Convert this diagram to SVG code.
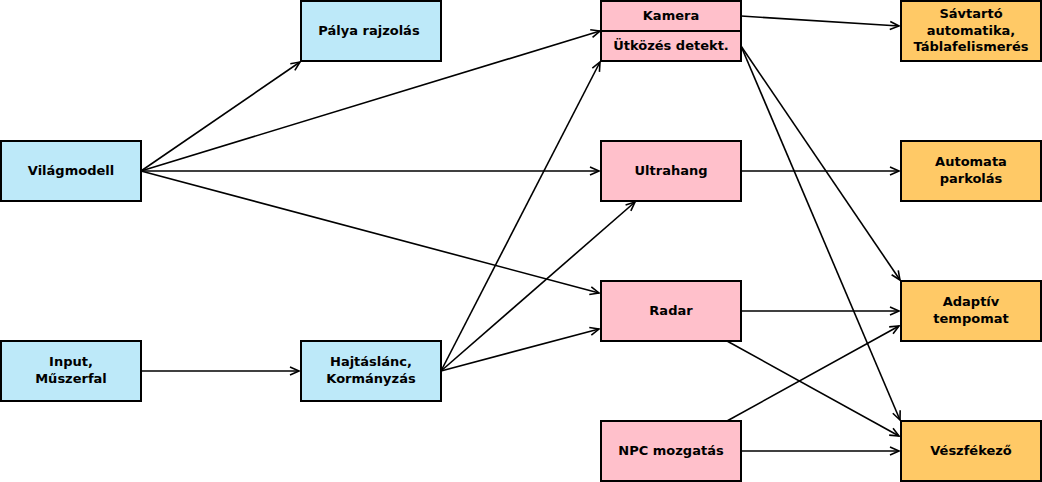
<svg xmlns="http://www.w3.org/2000/svg" width="1042" height="482" viewBox="0 0 1042 482">
<defs>
<marker id="arr" markerUnits="userSpaceOnUse" markerWidth="14" markerHeight="12" viewBox="-11 -6 13 12" refX="0" refY="0" orient="auto">
<path d="M-9,-4 L0,0 L-9,4" fill="none" stroke="#000" stroke-width="1.6"/>
</marker>
</defs>
<style>
rect{stroke:#000;stroke-width:2}
.b{fill:#bde9f9}
.p{fill:#ffc0cb}
.o{fill:#ffc966}
text{font-family:"DejaVu Sans",sans-serif;font-weight:bold;font-size:13px;text-anchor:middle;fill:#000}
.e line{stroke:#000;stroke-width:1.6;marker-end:url(#arr)}
</style>
<rect width="1042" height="482" fill="#fff" style="stroke:none"/>
<g class="e" id="connectors">
<line x1="141" y1="171" x2="300" y2="62"/>
<line x1="141" y1="171" x2="600" y2="31"/>
<line x1="141" y1="171" x2="599" y2="171"/>
<line x1="141" y1="171" x2="599" y2="293"/>
<line x1="141" y1="371" x2="299" y2="371"/>
<line x1="441" y1="371" x2="600" y2="62"/>
<line x1="441" y1="371" x2="635" y2="202"/>
<line x1="441" y1="371" x2="599" y2="329"/>
<line x1="741" y1="16" x2="899" y2="26"/>
<line x1="741" y1="46" x2="900" y2="280"/>
<line x1="741" y1="46" x2="900" y2="420"/>
<line x1="741" y1="171" x2="899" y2="171"/>
<line x1="741" y1="311" x2="899" y2="311"/>
<line x1="727" y1="341" x2="899" y2="436"/>
<line x1="727" y1="421" x2="899" y2="326"/>
<line x1="741" y1="451" x2="899" y2="451"/>
</g>
<g id="palya"><rect class="b" x="301" y="1" width="140" height="60"/><text x="369" y="35">Pálya rajzolás</text></g>
<g id="vilagmodell"><rect class="b" x="1" y="141" width="140" height="60"/><text x="71" y="175">Világmodell</text></g>
<g id="input"><rect class="b" x="1" y="341" width="140" height="60"/><text x="71" y="366">Input,</text><text x="71" y="383">Műszerfal</text></g>
<g id="hajtaslanc"><rect class="b" x="301" y="341" width="140" height="60"/><text x="371" y="366">Hajtáslánc,</text><text x="371" y="383">Kormányzás</text></g>
<g id="kamera"><rect class="p" x="601" y="1" width="140" height="30"/><text x="671" y="20">Kamera</text></g>
<g id="utkozes"><rect class="p" x="601" y="31" width="140" height="30"/><text x="671" y="50">Ütközés detekt.</text></g>
<g id="ultrahang"><rect class="p" x="601" y="141" width="140" height="60"/><text x="671" y="175">Ultrahang</text></g>
<g id="radar"><rect class="p" x="601" y="281" width="140" height="60"/><text x="671" y="315">Radar</text></g>
<g id="npc"><rect class="p" x="601" y="421" width="140" height="60"/><text x="671" y="455">NPC mozgatás</text></g>
<g id="savtarto"><rect class="o" x="901" y="1" width="140" height="60"/><text x="971" y="18">Sávtartó</text><text x="971" y="35">automatika,</text><text x="971" y="51">Táblafelismerés</text></g>
<g id="parkolas"><rect class="o" x="901" y="141" width="140" height="60"/><text x="971" y="166">Automata</text><text x="971" y="183">parkolás</text></g>
<g id="tempomat"><rect class="o" x="901" y="281" width="140" height="60"/><text x="971" y="306">Adaptív</text><text x="971" y="323">tempomat</text></g>
<g id="veszfekezo"><rect class="o" x="901" y="421" width="140" height="60"/><text x="971" y="455">Vészfékező</text></g>
</svg>
